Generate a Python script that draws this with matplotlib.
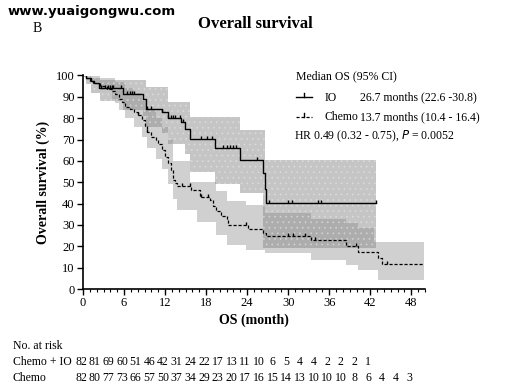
import matplotlib
matplotlib.use("Agg")
import matplotlib.pyplot as plt
import numpy as np
from matplotlib.lines import Line2D
from matplotlib.path import Path
from matplotlib.transforms import blended_transform_factory

plt.rcParams["font.family"] = ["Liberation Serif", "DejaVu Serif"]
plt.rcParams["hatch.linewidth"] = 0.6

# IO (chemo + IO) Kaplan-Meier step curve
io_t = [0, 0.5, 1.2, 1.6, 2.3, 5.9, 8.8, 9.2, 11.5, 12.4, 14.4, 14.9, 15.6, 19.3, 22.9, 26.3, 26.6, 26.8, 42.8]
io_s = [100, 98.8, 97.5, 96.3, 94.2, 91.4, 89.1, 84.4, 82.9, 80.2, 78.2, 75.1, 70.1, 66.2, 60.3, 54.2, 46.7, 40.3, 40.3]
io_cens = [2.7, 3.2, 3.7, 3.9, 4.2, 4.4, 5.6, 6.4, 6.8, 7.1, 7.4, 9.3, 10.0, 11.5, 12.5, 12.8, 13.1, 13.4,
           14.2, 14.6, 17.3, 18.1, 18.8, 20.5, 21.0, 21.5, 22.0, 22.4, 25.4, 27.2, 29.9, 30.5, 34.3, 34.8, 42.8]

# IO 95% CI band
io_ci_t = [0, 0.5, 1.2, 2.5, 5.9, 8.8, 9.2, 11.5, 12.4, 14.9, 15.6, 19.3, 22.9, 26.3, 26.6, 42.8]
io_ci_lo = [100, 96, 92, 88, 84, 81, 76, 73, 68, 63, 55, 49, 45, 19, 19, 19]
io_ci_hi = [100, 100, 99, 98, 98, 98, 94.5, 94.5, 87.5, 87.5, 80.5, 80.5, 74.5, 74.5, 60.3, 60.3]

# Chemo Kaplan-Meier step curve
ch_t = [0, 0.5, 1.0, 1.5, 2.5, 3.5, 4.2, 4.7, 5.2, 5.7, 6.1, 6.8, 7.5, 8.1, 8.6, 9.0, 9.3, 10.0, 10.6,
        11.0, 11.5, 12.0, 12.5, 12.8, 13.2, 13.5, 13.7, 15.8, 17.1, 18.5, 19.0, 19.5, 20.2, 21.0, 21.2,
        24.1, 26.3, 26.8, 33.4, 38.5, 40.2, 43.1, 43.7, 49.9]
ch_s = [100, 98.8, 97.6, 96.3, 95.1, 93.9, 92.7, 91.4, 89.0, 87.8, 85.3, 84.1, 82.9, 81.5, 79.0, 76.5,
        73.5, 71.0, 69.7, 68.0, 65.0, 62.0, 59.0, 55.6, 51.0, 49.5, 48.1, 46.6, 43.2, 41.6, 39.0, 36.3,
        34.0, 32.2, 29.9, 28.3, 26.0, 24.8, 22.9, 20.1, 17.4, 14.3, 11.7, 11.7]
ch_cens = [8.1, 9.4, 14.5, 15.7, 17.3, 18.3, 23.8, 30.0, 30.7, 32.4, 33.9, 39.9, 44.5]

# Chemo 95% CI band
ch_ci_t = [0, 1.0, 2.5, 4.2, 4.7, 5.2, 6.1, 7.5, 8.6, 9.3, 10.6, 11.5, 12.5, 13.2, 13.7, 15.6, 16.6,
           19.5, 21.0, 23.9, 26.6, 33.4, 38.5, 40.2, 42.6, 43.1, 49.9]
ch_ci_lo = [100, 97, 93, 89, 87, 84, 80, 76, 71, 66, 61, 56, 49, 42, 37, 37, 31.4, 25.2, 20.6, 18.2,
            16.7, 13.6, 11.2, 8.9, 8.9, 4.2, 4.2]
ch_ci_hi = [100, 100, 99, 99, 97, 97, 94, 92, 88, 84, 80, 76, 70, 60, 60, 50, 50, 46, 41, 39.3,
            35.4, 33.0, 30.7, 28.4, 22.1, 22.1, 22.1]

x_ticks = np.arange(0, 49, 6)
y_ticks = np.arange(0, 101, 10)
risk_months = np.arange(0, 49, 2)
risk_io = [82, 81, 69, 60, 51, 46, 42, 31, 24, 22, 17, 13, 11, 10, 6, 5, 4, 4, 2, 2, 2, 1]
risk_chemo = [82, 80, 77, 73, 66, 57, 50, 37, 34, 29, 23, 20, 17, 16, 15, 14, 13, 10, 10, 10, 8, 6, 4, 4, 3]

TICK = Path([(0, 0), (0, 1)], [Path.MOVETO, Path.LINETO])


def surv_at(t, times, surv):
    i = np.searchsorted(times, t, side="right") - 1
    return np.asarray(surv)[i]


fig = plt.figure(figsize=(5.06, 3.90), dpi=100)
ax = fig.add_axes([83 / 506, 1 - 289 / 390, (425 - 83) / 506, (289 - 75.5) / 390])

ax.fill_between(ch_ci_t, ch_ci_lo, ch_ci_hi, step="post", facecolor="#d0d0d0", lw=0, zorder=1)
ax.fill_between(io_ci_t, io_ci_lo, io_ci_hi, step="post", facecolor="#8c8c8c", alpha=0.5,
                edgecolor="#e6e6e6", hatch="...", lw=0, zorder=2)

ax.step(io_t, io_s, where="post", color="black", lw=1.0, zorder=4)
ax.step(ch_t, ch_s, where="post", color="black", lw=0.9, ls=(0, (2.5, 1.5)), zorder=4)
ax.plot(io_cens, surv_at(io_cens, io_t, io_s), ls="none", marker=TICK, ms=5, mew=1.0, color="black", zorder=5)
ax.plot(ch_cens, surv_at(ch_cens, ch_t, ch_s), ls="none", marker=TICK, ms=5, mew=1.0, color="black", zorder=5)

ax.set_xlim(0, 50)
ax.set_ylim(0, 100)
ax.set_xticks(x_ticks)
ax.set_yticks(y_ticks)
ax.set_xticks(np.arange(0, 51, 1), minor=True)
ax.tick_params(axis="both", which="major", labelsize=9, length=4, width=1.0, direction="out", pad=2)
ax.tick_params(axis="x", which="minor", length=2, width=0.8)
for side in ("top", "right"):
    ax.spines[side].set_visible(False)
for side in ("left", "bottom"):
    ax.spines[side].set_linewidth(1.2)
ax.set_xlabel("OS (month)", fontsize=10, weight="bold", labelpad=3)
ax.set_ylabel("Overall survival (%)", fontsize=10, weight="bold", labelpad=4)

# header texts
fig.text(8 / 506, 1 - 11 / 390, "www.yuaigongwu.com", family="DejaVu Sans", weight="bold",
         fontsize=9.5, va="center", ha="left")
fig.text(37 / 506, 1 - 28 / 390, "B", fontsize=10, va="center", ha="center")
fig.text(255 / 506, 1 - 24 / 390, "Overall survival", fontsize=12, weight="bold", va="center", ha="center")

# legend block
fig.text(296 / 506, 1 - 76 / 390, "Median OS (95% CI)", fontsize=8.5, va="center")
fig.add_artist(Line2D([296 / 506, 312 / 506], [1 - 97 / 390] * 2, color="black", lw=1.0))
fig.add_artist(Line2D([304 / 506] * 2, [1 - 97 / 390, 1 - 93 / 390], color="black", lw=1.0))
fig.add_artist(Line2D([296 / 506, 312 / 506], [1 - 117 / 390] * 2, color="black", lw=0.9, ls=(0, (2.5, 1.5))))
fig.add_artist(Line2D([304 / 506] * 2, [1 - 117 / 390, 1 - 113 / 390], color="black", lw=1.0))
fig.text(325 / 506, 1 - 98 / 390, "IO", fontsize=8.5, va="center")
fig.text(360 / 506, 1 - 97 / 390, "26.7 months (22.6 -30.8)", fontsize=8.5, va="center")
fig.text(325 / 506, 1 - 117 / 390, "Chemo", fontsize=8.5, va="center")
fig.text(360 / 506, 1 - 117 / 390, "13.7 months (10.4 - 16.4)", fontsize=8.5, va="center")
fig.text(294 / 506, 1 - 136 / 390, "HR 0.49 (0.32 - 0.75), $\\it{P}$ = 0.0052", fontsize=8.5, va="center")

# number at risk table
fig.text(13 / 506, 1 - 346 / 390, "No. at risk", fontsize=8.5, va="center")
fig.text(13 / 506, 1 - 362 / 390, "Chemo + IO", fontsize=8.5, va="center")
fig.text(13 / 506, 1 - 378 / 390, "Chemo", fontsize=8.5, va="center")
tr = blended_transform_factory(ax.transData, fig.transFigure)
for m, n in zip(risk_months, risk_io):
    ax.text(m - 0.3, 1 - 362 / 390, str(n), transform=tr, fontsize=8.5, ha="center", va="center", clip_on=False)
for m, n in zip(risk_months, risk_chemo):
    ax.text(m - 0.3, 1 - 378 / 390, str(n), transform=tr, fontsize=8.5, ha="center", va="center", clip_on=False)

fig.savefig("out.png", dpi=100, facecolor="white")
